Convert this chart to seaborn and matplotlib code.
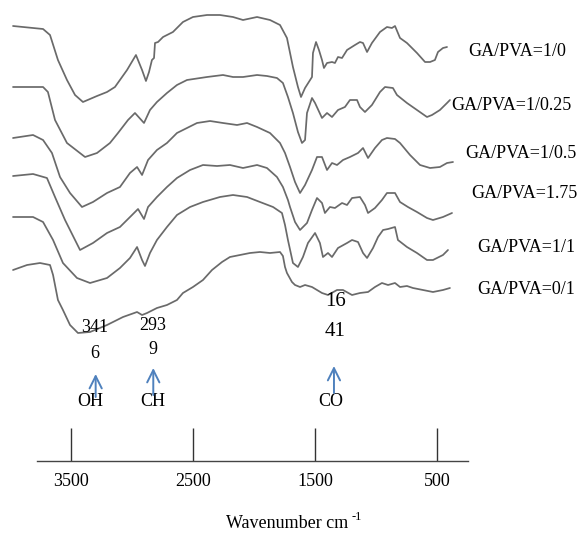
import pandas as pd
import matplotlib
matplotlib.use('Agg')
import matplotlib.pyplot as plt
import seaborn as sns

# FTIR spectra of GA/PVA films (transmittance in a.u., stacked)
samples = ['GA/PVA=1/0', 'GA/PVA=1/0.25', 'GA/PVA=1/0.5', 'GA/PVA=1.75', 'GA/PVA=1/1', 'GA/PVA=0/1']

wn_1_0 = [3974, 3728, 3671, 3606, 3532, 3466, 3401, 3286, 3204, 3139, 3040, 2967, 2917, 2885, 2860, 2836, 2819,
          2811, 2786, 2745, 2664, 2582, 2500, 2385, 2279, 2172, 2090, 1975, 1869, 1787, 1730, 1681, 1640, 1615,
          1582, 1525, 1517, 1492, 1468, 1443, 1427, 1402, 1361, 1337, 1312, 1279, 1238, 1173, 1132, 1107, 1074,
          1034, 968, 911, 870, 845, 804, 747, 665, 599, 558, 518, 493, 452, 419]
tr_1_0 = [435, 432, 426, 401, 381, 366, 359, 365, 369, 374, 391, 406, 391, 380, 389, 401, 403,
          418, 419, 424, 429, 439, 444, 446, 446, 444, 441, 444, 441, 436, 423, 394, 374, 364,
          373, 384, 408, 419, 411, 401, 393, 398, 399, 398, 404, 403, 411, 416, 419, 418, 409,
          418, 429, 434, 433, 435, 423, 418, 408, 399, 399, 401, 409, 413, 414]

wn_1_025 = [3974, 3728, 3688, 3630, 3532, 3384, 3286, 3180, 3114, 3032, 2975, 2901, 2852, 2795, 2713, 2631, 2549,
            2385, 2254, 2172, 2090, 1975, 1894, 1812, 1763, 1722, 1681, 1640, 1607, 1582, 1566, 1525, 1500, 1443,
            1402, 1361, 1312, 1255, 1214, 1156, 1132, 1091, 1034, 968, 927, 862, 829, 747, 665, 583, 542, 477,
            419, 395]
tr_1_025 = [374, 374, 369, 341, 318, 304, 308, 318, 328, 341, 348, 338, 351, 359, 368, 376, 381,
            384, 386, 384, 384, 386, 385, 383, 378, 364, 348, 329, 318, 321, 348, 363, 358, 343,
            348, 344, 351, 354, 361, 361, 354, 349, 356, 369, 374, 373, 366, 358, 351, 344, 346, 351,
            358, 361]

wn_1_05 = [3974, 3810, 3728, 3655, 3589, 3507, 3409, 3319, 3204, 3098, 3016, 2958, 2917, 2868, 2795, 2713, 2631,
           2549, 2467, 2360, 2254, 2139, 2057, 1975, 1869, 1787, 1746, 1705, 1664, 1623, 1582, 1525, 1484, 1443,
           1402, 1361, 1320, 1271, 1214, 1148, 1107, 1066, 1009, 952, 911, 845, 804, 722, 640, 558, 477, 419, 370]
tr_1_05 = [323, 326, 321, 308, 284, 268, 254, 259, 268, 274, 288, 294, 286, 301, 311, 318, 328,
           333, 338, 340, 338, 336, 338, 334, 328, 318, 308, 294, 279, 268, 276, 291, 304, 304,
           291, 298, 296, 301, 304, 308, 313, 303, 313, 321, 323, 322, 318, 306, 296, 293, 294, 298, 299]

wn_175 = [3974, 3810, 3696, 3630, 3548, 3425, 3319, 3204, 3098, 2999, 2950, 2901, 2868, 2795, 2713, 2631, 2524,
          2418, 2303, 2197, 2090, 1975, 1894, 1812, 1763, 1722, 1705, 1664, 1623, 1566, 1525, 1484, 1443, 1419,
          1378, 1337, 1279, 1238, 1197, 1132, 1091, 1066, 1009, 952, 911, 845, 804, 739, 665, 583, 534, 452, 378]
tr_175 = [285, 287, 283, 264, 241, 211, 218, 228, 234, 246, 252, 242, 254, 264, 274, 283, 291,
          296, 295, 296, 293, 296, 293, 284, 274, 261, 254, 239, 231, 238, 251, 263, 258, 248,
          254, 253, 258, 256, 263, 264, 256, 248, 253, 261, 268, 268, 259, 254, 249, 243, 241, 244, 248]

wn_1_1 = [3974, 3810, 3728, 3646, 3565, 3450, 3343, 3204, 3098, 3016, 2958, 2917, 2893, 2852, 2795, 2713, 2631,
          2524, 2418, 2279, 2172, 2057, 1951, 1844, 1771, 1746, 1722, 1681, 1640, 1599, 1558, 1500, 1460, 1435,
          1394, 1361, 1312, 1238, 1197, 1148, 1107, 1074, 1025, 984, 943, 902, 845, 821, 747, 665, 583, 534,
          452, 411]
tr_1_1 = [244, 244, 239, 221, 198, 183, 178, 183, 193, 203, 214, 201, 195, 208, 221, 234, 246,
          254, 259, 264, 266, 264, 259, 254, 248, 236, 221, 198, 194, 204, 218, 228, 218, 204,
          208, 204, 213, 218, 221, 219, 208, 203, 213, 224, 231, 232, 234, 221, 214, 208, 201, 201,
          206, 211]

wn_0_1 = [3974, 3859, 3753, 3671, 3646, 3606, 3565, 3507, 3442, 3343, 3204, 3073, 2958, 2917, 2876, 2795, 2713,
          2631, 2582, 2500, 2418, 2344, 2262, 2197, 2115, 2033, 1951, 1869, 1787, 1763, 1746, 1730, 1689, 1664,
          1623, 1582, 1525, 1484, 1443, 1394, 1320, 1271, 1197, 1132, 1066, 1009, 952, 902, 845, 804, 747, 698,
          616, 534, 452, 395]
tr_0_1 = [191, 196, 198, 196, 186, 161, 151, 136, 128, 129, 136, 144, 149, 146, 148, 153, 156,
          161, 168, 174, 181, 191, 199, 204, 206, 208, 209, 208, 209, 205, 194, 188, 179, 176,
          174, 176, 174, 171, 168, 166, 171, 171, 166, 168, 169, 174, 178, 176, 178, 174, 175, 173,
          171, 169, 171, 173]

spectra = {
    samples[0]: (wn_1_0, tr_1_0),
    samples[1]: (wn_1_025, tr_1_025),
    samples[2]: (wn_1_05, tr_1_05),
    samples[3]: (wn_175, tr_175),
    samples[4]: (wn_1_1, tr_1_1),
    samples[5]: (wn_0_1, tr_0_1),
}

# label anchor (wavenumber, height) at the right end of each curve
label_pos = [(247, 409), (381, 356), (266, 308), (223, 267), (168, 214), (168, 171)]

frames = []
for name, (wn, tr) in spectra.items():
    frames.append(pd.DataFrame({'wavenumber': wn, 'T': tr, 'sample': name}))
df = pd.concat(frames, ignore_index=True)

sns.set_theme(style='white')
plt.rcParams['font.family'] = ['Liberation Serif', 'DejaVu Serif']

fig = plt.figure(figsize=(5.87, 5.33), dpi=100)
fig.patch.set_facecolor('white')
ax = fig.add_axes([0, 72 / 533, 1, 461 / 533])

sns.lineplot(data=df, x='wavenumber', y='T', hue='sample', units='sample', estimator=None,
             palette={s: '#6a6a6a' for s in samples}, linewidth=1.25, legend=False, ax=ax)

ax.set_xlim(4080.6, -727.7)
ax.set_ylim(0, 461)
ax.set_yticks([])
ax.set_xticks([3500, 2500, 1500, 500])
ax.set_xticklabels(['3500', '2500', '1500', '500'])
ax.tick_params(axis='x', bottom=True, direction='in', length=24, width=1.0, color='#333333',
               labelsize=13, pad=8.5, labelcolor='black')
for side in ['top', 'left', 'right']:
    ax.spines[side].set_visible(False)
ax.spines['bottom'].set_color('#444444')
ax.spines['bottom'].set_linewidth(1.0)
ax.spines['bottom'].set_bounds(3775, 247)
ax.set_ylabel('')
ax.set_xlabel('Wavenumber cm', fontsize=13, color='black')
ax.xaxis.label.set_va('baseline')
ax.xaxis.set_label_coords(287.5 / 587, -(528 - 461) / 461)
# superscript "-1" of the unit
fig.text(352 / 587, 1 - 520 / 533, '-1', fontsize=9, ha='left', va='baseline', color='black')
ax.set_facecolor('white')

for name, (lx, ly) in zip(samples, label_pos):
    ax.text(lx, ly, name, fontsize=13, ha='left', va='center', color='black')

# peak annotations
notes = [('341', 3302, 133, 13), ('6', 3302, 108, 13), ('293', 2831, 135, 13), ('9', 2831, 111, 13),
         ('16', 1330, 159, 15), ('41', 1338, 129, 15),
         ('OH', 3338, 59, 13), ('CH', 2829, 59, 13), ('CO', 1375, 59, 13)]
for txt, x, y, fs in notes:
    ax.text(x, y, txt, fontsize=fs, ha='center', va='center', color='black')

arrows = [(3297, 64, 87), (2825, 66, 93), (1345, 68, 95)]
for x, y0, y1 in arrows:
    ax.annotate('', xy=(x, y1), xytext=(x, y0),
                arrowprops=dict(arrowstyle='->', color='#4f81bd', lw=1.4,
                                mutation_scale=22, shrinkA=0, shrinkB=0))

fig.savefig('out.png', dpi=100, facecolor='white')
